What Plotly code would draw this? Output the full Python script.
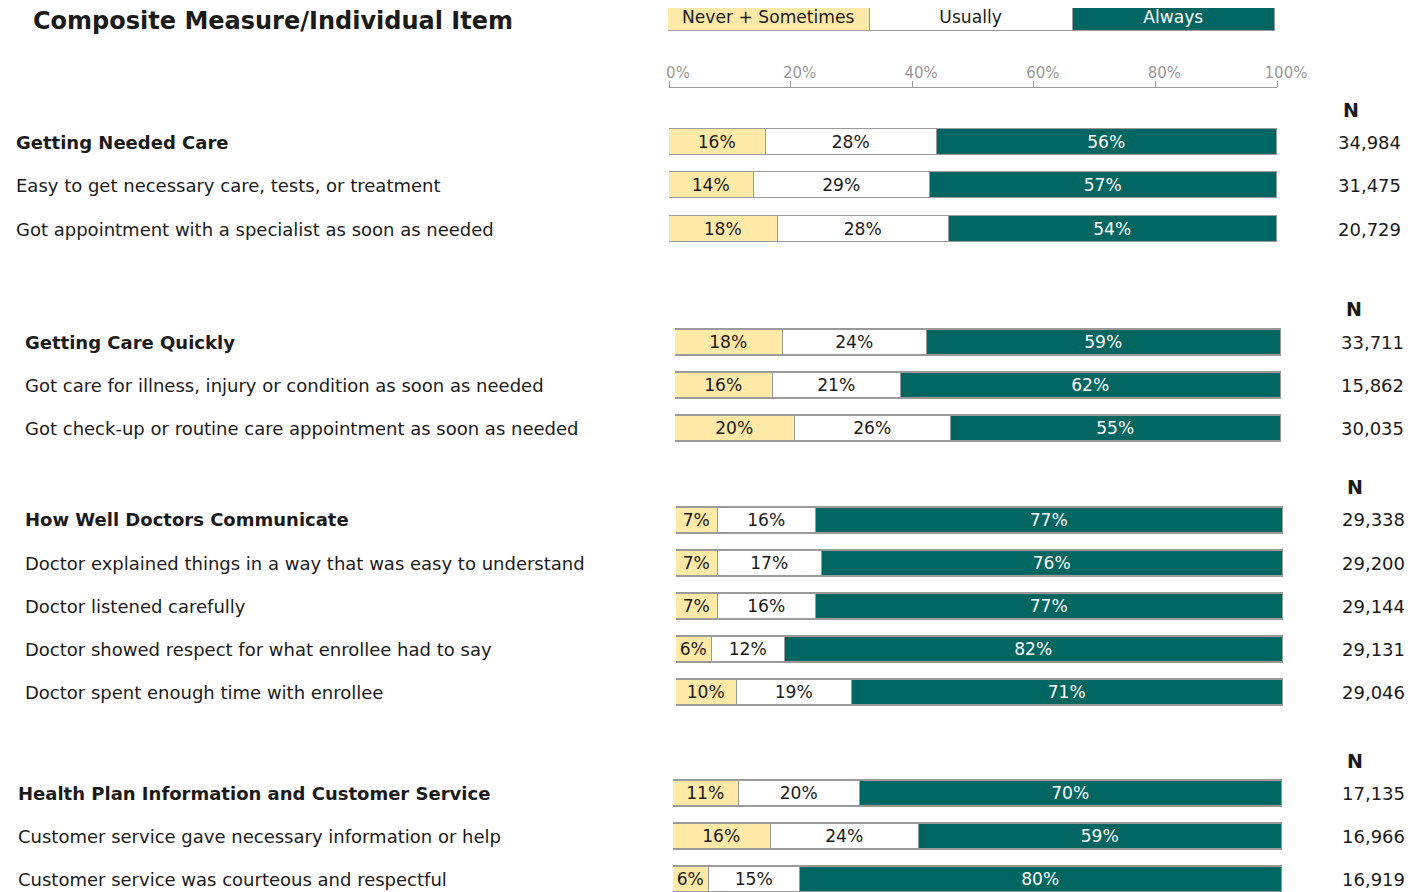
import plotly.graph_objects as go

W, H = 1422, 892
DX, DY = 8, 8  # page body margin offset to compensate

# ---- data ----
items_1 = ["Getting Needed Care",
           "Easy to get necessary care, tests, or treatment",
           "Got appointment with a specialist as soon as needed"]
never_1 = [16, 14, 18]
usually_1 = [28, 29, 28]
always_1 = [56, 57, 54]
n_1 = ["34,984", "31,475", "20,729"]

items_2 = ["Getting Care Quickly",
           "Got care for illness, injury or condition as soon as needed",
           "Got check-up or routine care appointment as soon as needed"]
never_2 = [18, 16, 20]
usually_2 = [24, 21, 26]
always_2 = [59, 62, 55]
n_2 = ["33,711", "15,862", "30,035"]

items_3 = ["How Well Doctors Communicate",
           "Doctor explained things in a way that was easy to understand",
           "Doctor listened carefully",
           "Doctor showed respect for what enrollee had to say",
           "Doctor spent enough time with enrollee"]
never_3 = [7, 7, 7, 6, 10]
usually_3 = [16, 17, 16, 12, 19]
always_3 = [77, 76, 77, 82, 71]
n_3 = ["29,338", "29,200", "29,144", "29,131", "29,046"]

items_4 = ["Health Plan Information and Customer Service",
           "Customer service gave necessary information or help",
           "Customer service was courteous and respectful"]
never_4 = [11, 16, 6]
usually_4 = [20, 24, 15]
always_4 = [70, 59, 80]
n_4 = ["17,135", "16,966", "16,919"]

legend_labels = ["Never + Sometimes", "Usually", "Always"]
tick_vals = [0, 20, 40, 60, 80, 100]

# ---- style ----
FONT = "Verdana, DejaVu Sans, sans-serif"
BEIGE = "#FFE9A6"
WHITE = "#FFFFFF"
TEAL = "#006661"
EDGE = "#9A9A9A"
DARK = "#1a1a1a"
FS = 18

# per-section pixel layout: bar x0, x1, first row centre, row step, label x, N right x, N header y
layout_px = [
    dict(x0=669, x1=1277, yc=142, step=43.5, lx=16, nx=1401, ny=110),
    dict(x0=675, x1=1281, yc=342, step=43.0, lx=25, nx=1404, ny=309),
    dict(x0=676, x1=1283, yc=520, step=43.0, lx=25, nx=1405, ny=487),
    dict(x0=673, x1=1282, yc=793, step=43.0, lx=18, nx=1405, ny=761),
]

data = [
    (items_1, never_1, usually_1, always_1, n_1),
    (items_2, never_2, usually_2, always_2, n_2),
    (items_3, never_3, usually_3, always_3, n_3),
    (items_4, never_4, usually_4, always_4, n_4),
]


def px_x(p):
    return min(1, max(0, (p - DX) / W))


def px_y(p):
    return min(1, max(0, 1 - (p - DY) / H))


def y_axis(yc, step, n):
    """Domain + range so that row i is centred at reference pixel yc + i*step."""
    yc_f = yc - DY
    top = max(0, yc_f - step / 2)
    bot = min(H, yc_f + step * (n - 0.5))
    return dict(domain=[1 - bot / H, 1 - top / H],
                range=[(bot - yc_f) / step, (top - yc_f) / step])


fig = go.Figure()
annotations = []

for k, ((items, nv, us, al, ns), lp) in enumerate(zip(data, layout_px), start=1):
    xa, ya = f"x{k}", f"y{k}"
    rows = list(range(len(items)))
    # rounded shares don't always add to 100: stretch each row to the full width
    totals = [a + b + c for a, b, c in zip(nv, us, al)]
    for vals, col, tcol in [(nv, BEIGE, DARK), (us, WHITE, DARK), (al, TEAL, WHITE)]:
        fig.add_trace(go.Bar(
            y=rows, x=[v * 100 / t for v, t in zip(vals, totals)],
            orientation="h", xaxis=xa, yaxis=ya,
            marker=dict(color=col, line=dict(color=EDGE, width=1.5)),
            width=26 / lp["step"],
            text=[f"{v}%" for v in vals], textposition="inside",
            insidetextanchor="middle",
            textfont=dict(family=FONT, size=FS, color=tcol),
            hoverinfo="skip", showlegend=False,
        ))
    fig.layout[f"xaxis{k}"] = dict(domain=[px_x(lp["x0"]), px_x(lp["x1"])], range=[0, 100],
                                   visible=False, anchor=ya, fixedrange=True)
    fig.layout[f"yaxis{k}"] = dict(**y_axis(lp["yc"], lp["step"], len(items)),
                                   visible=False, anchor=xa, fixedrange=True)
    # item labels and N values
    for i, txt in enumerate(items):
        annotations.append(dict(
            x=px_x(lp["lx"] - 2), xref="paper", y=i, yref=ya, xanchor="left", yanchor="middle",
            text=f"<b>{txt}</b>" if i == 0 else txt, showarrow=False,
            font=dict(family=FONT, size=FS, color=DARK)))
        annotations.append(dict(
            x=px_x(lp["nx"] + 2), xref="paper", y=i, yref=ya, xanchor="right", yanchor="middle",
            text=ns[i], showarrow=False, font=dict(family=FONT, size=FS, color=DARK)))
    annotations.append(dict(
        x=px_x(lp["nx"] - 50), xref="paper", y=px_y(lp["ny"]), yref="paper",
        xanchor="center", yanchor="middle", text="<b>N</b>", showarrow=False,
        font=dict(family=FONT, size=19, color=DARK)))

# legend strip
for lab, col, tcol in zip(legend_labels, [BEIGE, WHITE, TEAL], [DARK, DARK, WHITE]):
    fig.add_trace(go.Bar(
        y=[0], x=[1], orientation="h", xaxis="x5", yaxis="y5",
        marker=dict(color=col, line=dict(color=EDGE, width=1.5)), width=1,
        text=[lab], textposition="inside", insidetextanchor="middle",
        textfont=dict(family=FONT, size=FS, color=tcol), cliponaxis=False,
        hoverinfo="skip", showlegend=False,
    ))
fig.layout["xaxis5"] = dict(domain=[px_x(668), px_x(1275)], range=[0, 3], visible=False,
                            anchor="y5", fixedrange=True)
fig.layout["yaxis5"] = dict(**y_axis(18, 26, 1), visible=False, anchor="x5", fixedrange=True)

# percentage scale
fig.add_trace(go.Scatter(x=tick_vals, y=[0] * len(tick_vals), xaxis="x6", yaxis="y6",
                         mode="markers", marker=dict(opacity=0), hoverinfo="skip",
                         showlegend=False))
fig.layout["xaxis6"] = dict(domain=[px_x(669), px_x(1277)], range=[0, 100], side="top",
                            tickvals=tick_vals, ticktext=[f"{v}%" for v in tick_vals],
                            ticks="outside", ticklen=6, tickcolor="#999", showline=True,
                            linecolor="#999", linewidth=1, showgrid=False, zeroline=False,
                            ticklabelshift=9, ticklabelstandoff=-3,
                            tickfont=dict(family=FONT, size=15, color="#999"),
                            anchor="y6", fixedrange=True)
fig.layout["yaxis6"] = dict(domain=[px_y(100), px_y(88)], visible=False, anchor="x6",
                            fixedrange=True)

annotations.append(dict(
    x=px_x(31), xref="paper", y=px_y(21), yref="paper", xanchor="left", yanchor="middle",
    text="<b>Composite Measure/Individual Item</b>", showarrow=False,
    font=dict(family=FONT, size=24, color=DARK)))

fig.update_layout(
    width=W, height=H, margin=dict(l=0, r=0, t=0, b=0, pad=0, autoexpand=False),
    barmode="stack", bargap=0,
    plot_bgcolor="white", paper_bgcolor="white",
    uniformtext=dict(minsize=FS - 1, mode="show"),
    annotations=annotations,
)

fig.write_html("out.html")
